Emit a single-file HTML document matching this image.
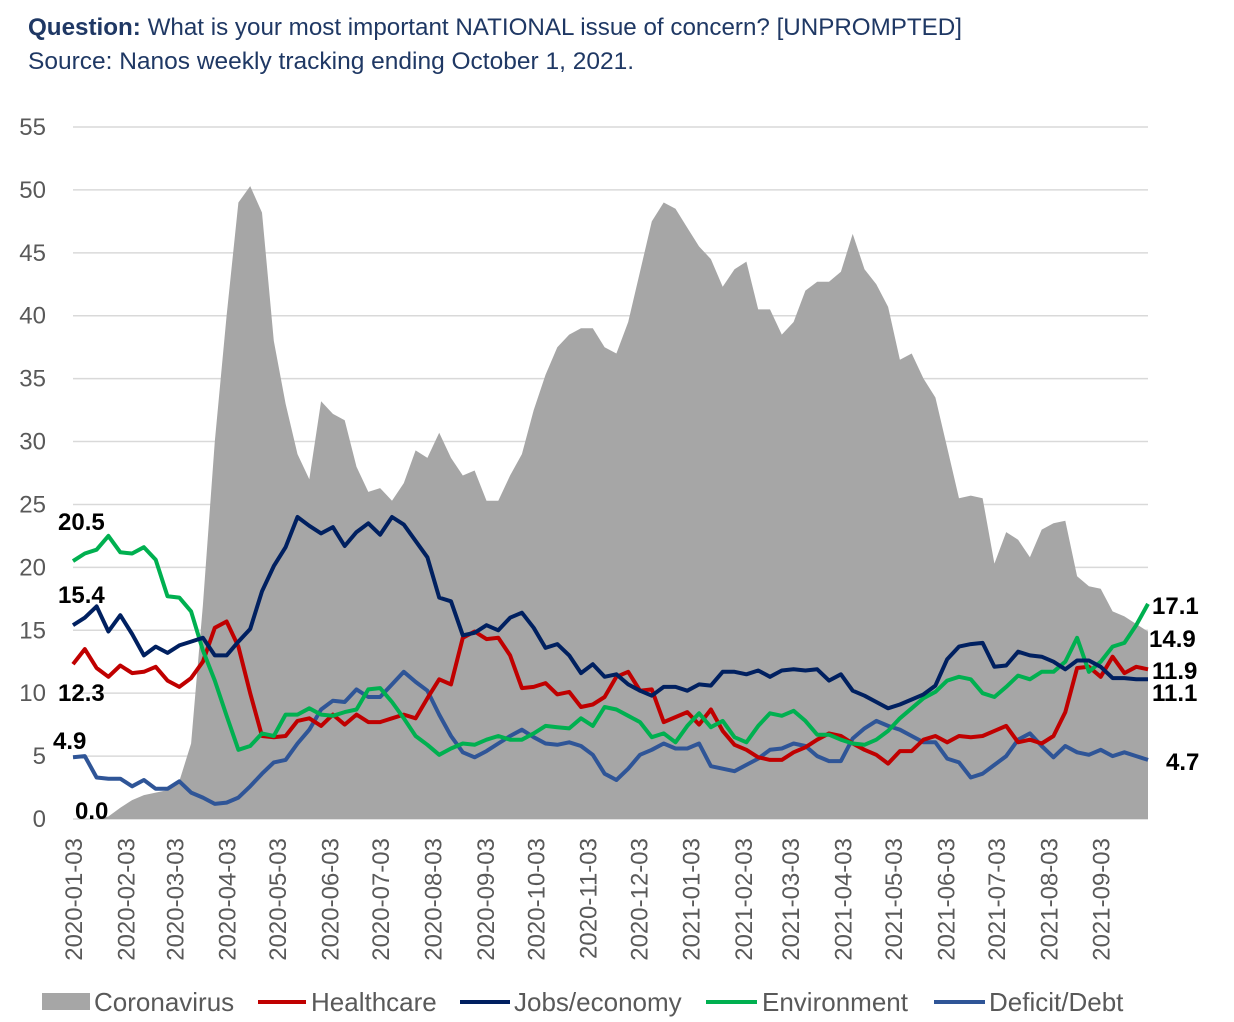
<!DOCTYPE html>
<html><head><meta charset="utf-8">
<style>
body{margin:0;background:#fff;width:1234px;height:1022px;overflow:hidden;font-family:"Liberation Sans",sans-serif}
svg{position:absolute;left:0;top:0}
</style></head>
<body>
<svg id="chart" width="1234" height="1022" xmlns="http://www.w3.org/2000/svg">
<text x="28" y="35" font-size="24" fill="#1F3864" textLength="934" lengthAdjust="spacingAndGlyphs"><tspan font-weight="bold">Question:</tspan><tspan fill="#1F3864"> What is your most important NATIONAL issue of concern? [UNPROMPTED]</tspan></text>
<text x="28" y="69" font-size="24" fill="#1F3864" textLength="606" lengthAdjust="spacingAndGlyphs">Source: Nanos weekly tracking ending October 1, 2021.</text>
<g id="grid"></g><g id="area"></g><g id="lines"></g><g id="ylab"></g><g id="xlab"></g><g id="dlab"></g>
<g font-size="26" fill="#595959">
<rect x="42" y="993" width="48" height="17" fill="#A6A6A6"/>
<text x="94" y="1011">Coronavirus</text>
<line x1="258" y1="1002" x2="306" y2="1002" stroke="#C00000" stroke-width="4"/>
<text x="311" y="1011">Healthcare</text>
<line x1="460" y1="1002" x2="510" y2="1002" stroke="#002060" stroke-width="4"/>
<text x="514" y="1011">Jobs/economy</text>
<line x1="706" y1="1002" x2="757" y2="1002" stroke="#00B050" stroke-width="4"/>
<text x="762" y="1011">Environment</text>
<line x1="934" y1="1002" x2="985" y2="1002" stroke="#2F5597" stroke-width="4"/>
<text x="989" y="1011">Deficit/Debt</text>
</g>
</svg>
<script>
const corona=[0,0,0,0.2,0.9,1.5,1.9,2.1,2.3,3.0,6,17,30,40,49,50.3,48.2,38,33,29,27,33.2,32.2,31.7,28,26,26.3,25.3,26.7,29.3,28.7,30.7,28.7,27.3,27.7,25.3,25.3,27.3,29,32.5,35.3,37.5,38.5,39,39,37.5,37,39.5,43.5,47.5,49,48.5,47,45.5,44.5,42.3,43.7,44.3,40.5,40.5,38.5,39.5,42,42.7,42.7,43.5,46.5,43.7,42.5,40.7,36.5,37,35,33.5,29.5,25.5,25.7,25.5,20.3,22.8,22.2,20.8,23,23.5,23.7,19.3,18.5,18.3,16.5,16.1,15.5,14.9];
const jobs=[15.4,16.0,16.9,14.9,16.2,14.7,13.0,13.7,13.2,13.8,14.1,14.4,13.0,13.0,14.1,15.1,18.1,20.1,21.6,24.0,23.3,22.7,23.2,21.7,22.8,23.5,22.6,24.0,23.4,22.1,20.8,17.6,17.3,14.6,14.8,15.4,15.0,16.0,16.4,15.2,13.6,13.9,13.0,11.6,12.3,11.3,11.5,10.7,10.2,9.8,10.5,10.5,10.2,10.7,10.6,11.7,11.7,11.5,11.8,11.3,11.8,11.9,11.8,11.9,11.0,11.5,10.2,9.8,9.3,8.8,9.1,9.5,9.9,10.6,12.7,13.7,13.9,14.0,12.1,12.2,13.3,13.0,12.9,12.5,11.9,12.6,12.6,12.1,11.2,11.2,11.1,11.1];
const health=[12.3,13.5,12.0,11.3,12.2,11.6,11.7,12.1,11.0,10.5,11.2,12.5,15.2,15.7,13.7,10.0,6.6,6.5,6.6,7.8,8.0,7.4,8.3,7.5,8.3,7.7,7.7,8.0,8.3,8.0,9.6,11.1,10.7,14.4,14.9,14.3,14.4,13.0,10.4,10.5,10.8,9.9,10.1,8.9,9.1,9.7,11.3,11.7,10.2,10.3,7.7,8.1,8.5,7.5,8.7,7.0,5.9,5.5,4.9,4.7,4.7,5.3,5.7,6.3,6.8,6.6,6.0,5.5,5.1,4.4,5.4,5.4,6.3,6.6,6.1,6.6,6.5,6.6,7.0,7.4,6.1,6.3,6.0,6.6,8.5,12.0,12.1,11.3,12.9,11.6,12.1,11.9];
const env=[20.5,21.1,21.4,22.5,21.2,21.1,21.6,20.6,17.7,17.6,16.5,13.4,11.0,8.2,5.5,5.8,6.8,6.6,8.3,8.3,8.8,8.3,8.2,8.5,8.7,10.3,10.4,9.3,8.0,6.6,5.9,5.1,5.6,6.0,5.9,6.3,6.6,6.3,6.3,6.8,7.4,7.3,7.2,8.0,7.4,8.9,8.7,8.2,7.7,6.5,6.8,6.1,7.4,8.4,7.3,7.8,6.5,6.1,7.4,8.4,8.2,8.6,7.8,6.7,6.7,6.3,6.0,5.9,6.3,7.0,8.0,8.8,9.6,10.1,11.0,11.3,11.1,10.0,9.7,10.5,11.4,11.1,11.7,11.7,12.5,14.4,11.7,12.5,13.7,14.0,15.4,17.1];
const deficit=[4.9,5.0,3.3,3.2,3.2,2.6,3.1,2.4,2.4,3.0,2.1,1.7,1.2,1.3,1.7,2.6,3.6,4.5,4.7,6.0,7.1,8.7,9.4,9.3,10.3,9.7,9.7,10.7,11.7,10.9,10.2,8.3,6.6,5.3,4.9,5.4,6.0,6.6,7.1,6.5,6.0,5.9,6.1,5.8,5.1,3.6,3.1,4.0,5.1,5.5,6.0,5.6,5.6,6.0,4.2,4.0,3.8,4.3,4.8,5.5,5.6,6.0,5.8,5.0,4.6,4.6,6.4,7.2,7.8,7.4,7.1,6.6,6.1,6.1,4.8,4.5,3.3,3.6,4.3,5.0,6.3,6.8,5.8,4.9,5.8,5.3,5.1,5.5,5.0,5.3,5.0,4.7];
const yTicks=[0,5,10,15,20,25,30,35,40,45,50,55];
const xTickLabels=["2020-01-03","2020-02-03","2020-03-03","2020-04-03","2020-05-03","2020-06-03","2020-07-03","2020-08-03","2020-09-03","2020-10-03","2020-11-03","2020-12-03","2021-01-03","2021-02-03","2021-03-03","2021-04-03","2021-05-03","2021-06-03","2021-07-03","2021-08-03","2021-09-03"];
const NS="http://www.w3.org/2000/svg";
const X0=73,X1=1148,Y0=819,YT=127;
const n=corona.length;
function xs(i){return X0+(X1-X0)*i/(n-1);}
function ys(v){return Y0-(Y0-YT)*v/55;}
function mk(tag,attrs,parent){const e=document.createElementNS(NS,tag);for(const k in attrs)e.setAttribute(k,attrs[k]);parent.appendChild(e);return e;}
const g=document.getElementById('grid'),yl=document.getElementById('ylab');
yTicks.forEach(t=>{
  const l=mk('line',{x1:X0,x2:X1,y1:ys(t),y2:ys(t),stroke:'#d9d9d9','stroke-width':1.5},g);
  
  
  const tx=mk('text',{x:46,y:ys(t)+8,'text-anchor':'end','font-size':24,fill:'#595959'},yl);
  tx.textContent=t;
  
  
});
let d='M'+xs(0)+','+ys(0);
corona.forEach((v,i)=>{d+=' L'+xs(i).toFixed(1)+','+ys(v).toFixed(1);});
d+=' L'+xs(n-1)+','+ys(0)+' Z';
const a=mk('path',{d:d,fill:'#A6A6A6'},document.getElementById('area'));


const lg=document.getElementById('lines');
[[deficit,'#2F5597','deficit-line'],[health,'#C00000','healthcare-line'],[env,'#00B050','environment-line'],[jobs,'#002060','jobs-line']].forEach(([arr,c,nm])=>{
  const p=mk('polyline',{points:arr.map((v,i)=>xs(i).toFixed(1)+','+ys(v).toFixed(1)).join(' '),fill:'none',stroke:c,'stroke-width':4,'stroke-linejoin':'round'},lg);
  
  
});
const xl=document.getElementById('xlab');
const start=Date.UTC(2020,0,3);
xTickLabels.forEach(s=>{
  const [yy,mm,dd]=s.split('-').map(Number);
  const days=(Date.UTC(yy,mm-1,dd)-start)/86400000;
  const x=xs(days/7)+9;
  const t=mk('text',{x:x,y:838,'font-size':24,fill:'#595959','text-anchor':'end',transform:'rotate(-90 '+x+' 838)'},xl);
  t.textContent=s;
  
  
});
const dl=document.getElementById('dlab');
[["20.5",58,530],["15.4",58,603],["12.3",58,701],["4.9",53,749],["0.0",75,819],["17.1",1152,614],["14.9",1149,647],["11.9",1152,679],["11.1",1152,701],["4.7",1166,770]].forEach(([s,x,y])=>{
  const t=mk('text',{x:x,y:y,'font-size':24,'font-weight':'bold',fill:'#000'},dl);
  t.textContent=s;
  
  
});
</script>
</body></html>
